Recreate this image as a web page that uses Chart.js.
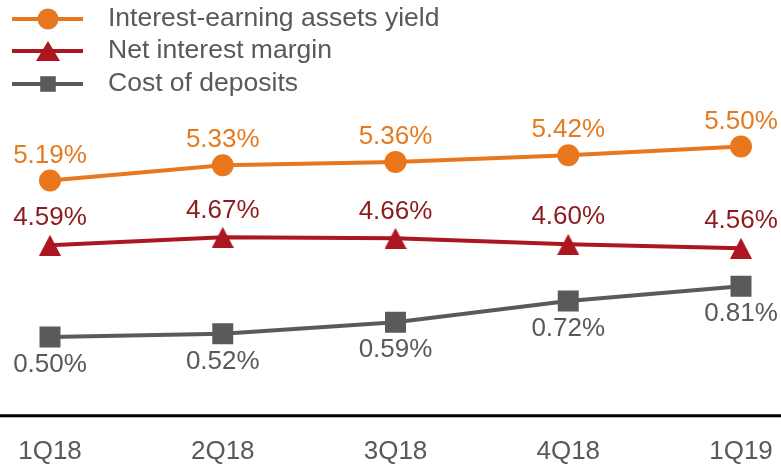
<!DOCTYPE html>
<html>
<head>
<meta charset="utf-8">
<script src="https://cdn.jsdelivr.net/npm/chart.js@4/dist/chart.umd.min.js"></script>
<style>
  html,body{margin:0;padding:0;background:#fff;}
  #wrap{width:781px;height:466px;position:relative;}
</style>
</head>
<body>
<div id="wrap"><canvas id="rateChart"></canvas></div>
<script>
const quarters = ["1Q18", "2Q18", "3Q18", "4Q18", "1Q19"];
const assetYield = [5.19, 5.33, 5.36, 5.42, 5.50];
const netMargin = [4.59, 4.67, 4.66, 4.60, 4.56];
const depositCost = [0.50, 0.52, 0.59, 0.72, 0.81];
const seriesNames = ["Interest-earning assets yield", "Net interest margin", "Cost of deposits"];

const FONT = "'Liberation Sans', Arial, sans-serif";
const ORANGE = "#E8771E", RED = "#AC1620", GREY = "#5A5A5A";
const TXT_ORANGE = "#E57A20", TXT_RED = "#8E1A1E", TXT_GREY = "#595959";

// the triangle in the original is as tall as it is wide, centred on the line
function makeTri(w, h){
  const cv = document.createElement("canvas");
  cv.width = w; cv.height = h;
  const c = cv.getContext("2d");
  c.fillStyle = RED;
  c.beginPath(); c.moveTo(w/2, 0); c.lineTo(w, h); c.lineTo(0, h); c.closePath(); c.fill();
  return cv;
}
const tri = makeTri(22, 21);
const legendTri = makeTri(24, 20);

function marker(ctx, style, x, y, r, color){
  ctx.save();
  ctx.fillStyle = color;
  ctx.beginPath();
  if(style === "circle"){
    ctx.arc(x, y, r, 0, Math.PI*2);
    ctx.fill();
  } else if(style === "rect"){
    const s = r*Math.SQRT1_2;
    ctx.rect(x - s, y - s, 2*s, 2*s);
    ctx.fill();
  } else {
    ctx.drawImage(style, x - style.width/2, y - style.height/2);
  }
  ctx.restore();
}

// value labels above / below points
const valueLabels = {
  id: "valueLabels",
  afterDatasetsDraw(chart){
    const ctx = chart.ctx;
    ctx.save();
    ctx.font = "26px " + FONT;
    ctx.textAlign = "center";
    ctx.textBaseline = "middle";
    chart.data.datasets.forEach((ds, i) => {
      const meta = chart.getDatasetMeta(i);
      meta.data.forEach((pt, j) => {
        ctx.fillStyle = ds.labelColor;
        ctx.fillText(ds.data[j].toFixed(2) + "%", pt.x, pt.y + ds.labelOffset);
      });
    });
    ctx.restore();
  }
};

// legend with line + marker, and the full-width baseline
const extras = {
  id: "extras",
  afterDraw(chart){
    const ctx = chart.ctx;
    const rows = [19, 51, 84];
    const legendMarks = [["circle", 10.5], [legendTri, 0], ["rect", 11]];
    ctx.save();
    chart.data.datasets.forEach((ds, i) => {
      const y = rows[i];
      ctx.strokeStyle = ds.borderColor;
      ctx.lineWidth = 4;
      ctx.beginPath(); ctx.moveTo(12, y); ctx.lineTo(83, y); ctx.stroke();
      marker(ctx, legendMarks[i][0], 48, y, legendMarks[i][1], ds.borderColor);
      ctx.fillStyle = TXT_GREY;
      ctx.font = "26.5px " + FONT;
      ctx.textBaseline = "middle";
      ctx.textAlign = "left";
      ctx.fillText(ds.label, 108, y);
    });
    ctx.strokeStyle = "#000";
    ctx.lineWidth = 3;
    ctx.beginPath();
    ctx.moveTo(0, chart.chartArea.bottom + 1);
    ctx.lineTo(chart.width, chart.chartArea.bottom + 1);
    ctx.stroke();
    ctx.restore();
  }
};

new Chart(document.getElementById("rateChart"), {
  type: "line",
  data: {
    labels: quarters,
    datasets: [
      { label: seriesNames[0], data: assetYield, yAxisID: "yYield",
        borderColor: ORANGE, backgroundColor: ORANGE, borderWidth: 4,
        pointStyle: "circle", pointRadius: 9, pointHoverRadius: 9,
        labelColor: TXT_ORANGE, labelOffset: -25, clip: false },
      { label: seriesNames[1], data: netMargin, yAxisID: "yMargin",
        borderColor: RED, backgroundColor: RED, borderWidth: 4,
        pointStyle: tri, pointRadius: 11, pointHoverRadius: 11,
        labelColor: TXT_RED, labelOffset: -27, clip: false },
      { label: seriesNames[2], data: depositCost, yAxisID: "yCost",
        borderColor: GREY, backgroundColor: GREY, borderWidth: 4,
        pointStyle: "rect", pointRadius: 12, pointHoverRadius: 12,
        labelColor: TXT_GREY, labelOffset: 28, clip: false }
    ]
  },
  options: {
    responsive: true,
    maintainAspectRatio: false,
    animation: false,
    layout: { padding: { left: 50, right: 40, top: 0, bottom: -22 } },
    plugins: { legend: { display: false }, tooltip: { enabled: false } },
    scales: {
      x: {
        grid: { display: false, drawTicks: false },
        border: { display: false },
        ticks: { color: TXT_GREY, font: { family: FONT, size: 26 }, padding: 21, maxRotation: 0 },
        afterFit(scale){
          scale.paddingLeft = 0; scale.paddingRight = 0;
          scale.paddingTop = 0; scale.paddingBottom = 0;
        }
      },
      yYield: { display: false, min: 3.054, max: 6.690 },
      yMargin: { display: false, min: 2.89, max: 6.89 },
      yCost: { display: false, min: 0.026, max: 2.458 }
    }
  },
  plugins: [valueLabels, extras]
});
</script>
</body>
</html>
